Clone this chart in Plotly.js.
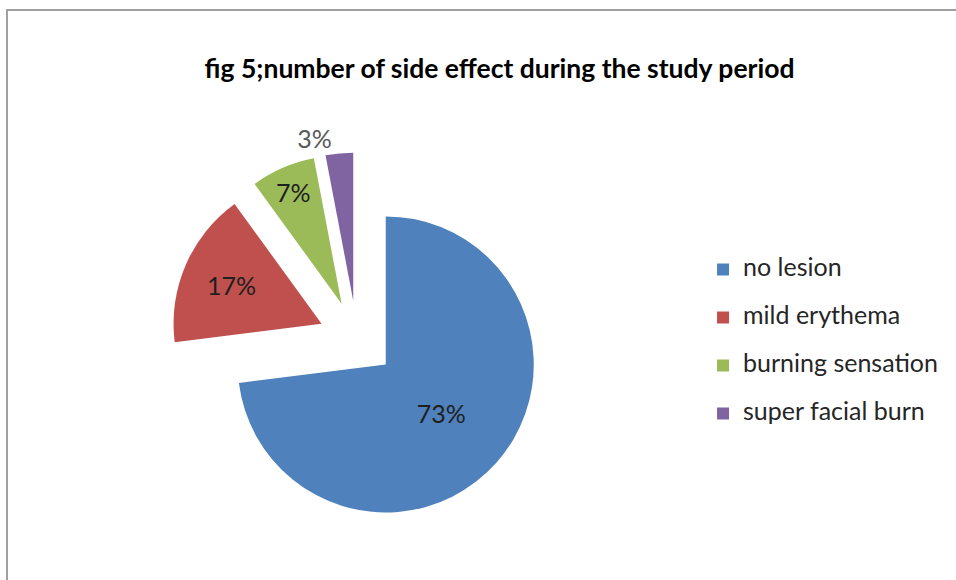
<!DOCTYPE html>
<html>
<head>
<meta charset="utf-8">
<script src="https://cdn.plot.ly/plotly-3.0.1.min.js"></script>
<style>
  html, body { margin: 0; padding: 0; background: #ffffff; }
  #chart { width: 956px; height: 580px; }
</style>
</head>
<body>
<div id="chart"></div>
<script>
// Side effects recorded during the study period (percent of cases)
const categories = ['no lesion', 'mild erythema', 'burning sensation', 'super facial burn'];
const shares = [73, 17, 7, 3];
const sliceColors = ['#4F81BD', '#C0504D', '#9BBB59', '#8064A2'];
const chartTitle = 'fig 5;number of side effect during the study period';

const FONT = 'Lato, "Open Sans", sans-serif';

// Legend rows are given a blank second line so that the rows sit further apart
const legendLabels = categories.map(c =>
  '<span style="font-size:25px">' + c + '</span><br>\u00a0');

const trace = {
  type: 'pie',
  labels: legendLabels,
  values: shares,
  sort: false,
  direction: 'clockwise',
  rotation: 0,
  pull: 0.26,
  marker: { colors: sliceColors, line: { width: 0 } },
  texttemplate: '%{percent:.0%}',
  textposition: ['inside', 'inside', 'inside', 'outside'],
  insidetextorientation: 'horizontal',
  textfont: { family: FONT, size: 25, color: ['#1f1f1f', '#1f1f1f', '#1f1f1f', '#595959'] },
  hoverinfo: 'none',
  domain: { x: [0.1782, 0.5684], y: [0.0940, 0.7371] }
};

const layout = {
  width: 956,
  height: 580,
  margin: { l: 0, r: 0, t: 0, b: 0 },
  paper_bgcolor: '#ffffff',
  showlegend: true,
  font: { family: FONT, color: '#262626' },
  title: {
    text: chartTitle,
    x: 0.5225, xanchor: 'center', xref: 'paper',
    y: 0.881, yanchor: 'middle', yref: 'paper',
    font: { family: FONT, size: 26.5, weight: 'bold', color: '#000000' }
  },
  legend: {
    x: 0.7354, xanchor: 'left',
    y: 0.566, yanchor: 'top',
    valign: 'top',
    font: { family: FONT, size: 17.3, color: '#262626' },
    bgcolor: 'rgba(0,0,0,0)',
    borderwidth: 0
  },
  shapes: [{
    type: 'rect', xref: 'paper', yref: 'paper',
    x0: 7 / 956, x1: 1.02, y0: -0.02, y1: 1 - 10 / 580,
    line: { color: '#a0a0a0', width: 2 },
    fillcolor: 'rgba(0,0,0,0)'
  }]
};

Plotly.newPlot('chart', [trace], layout, { displayModeBar: false, staticPlot: true });
</script>
</body>
</html>
